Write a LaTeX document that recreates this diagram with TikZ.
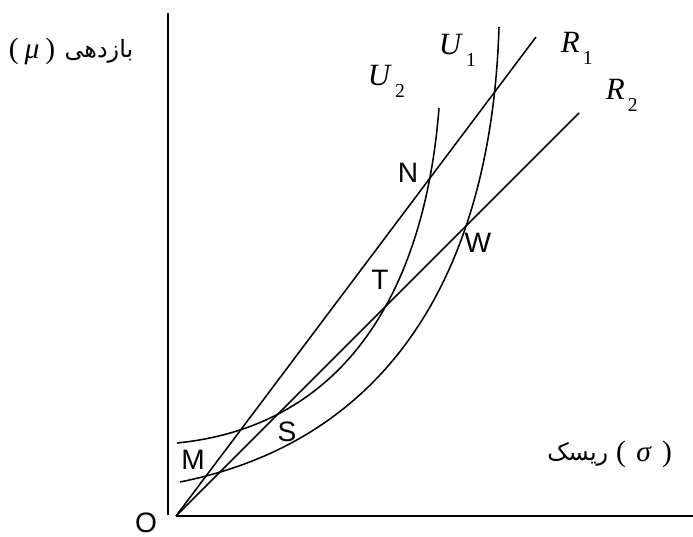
\documentclass[tikz,border=0pt]{standalone}
\usepackage{fontspec}
\setmainfont{Liberation Serif}
\setsansfont{Liberation Sans}
\newfontfamily\arabicfont[Script=Arabic]{DejaVu Sans}
\TeXXeTstate=1
\usetikzlibrary{positioning}

\newcommand{\sub}[2]{\textit{#1}\raisebox{-0.36em}{\fontsize{14}{16}\selectfont\,#2}}

\begin{document}
\begin{tikzpicture}[x=0.025cm, y=-0.025cm, line width=1.1pt,
  axis/.style={line width=1.5pt},
  pt/.style={font=\sffamily\fontsize{20}{24}\selectfont, inner sep=0pt},
  curvename/.style={font=\fontsize{22}{26}\selectfont, inner sep=0pt, anchor=base west},
  axisname/.style={font=\fontsize{21}{25}\selectfont, inner sep=0pt},
  farsi/.style={font=\arabicfont\fontsize{17}{21}\selectfont, inner sep=0pt}]
\useasboundingbox (0,0) rectangle (693,537);

% axes
\coordinate (O) at (176,516);
\coordinate (ytop) at (168,13);
\coordinate (ybot) at (168,515);
\coordinate (xend) at (693,516);
\draw[axis] (ybot) -- (ytop);
\draw[axis] (O) -- (xend);
\node[pt, anchor=base] (origin) at (146,533) {O};

% rays
\coordinate (r1end) at (536,37);
\coordinate (r2end) at (579,113);
\draw (O) -- (r1end);
\draw (O) -- (r2end);

% indifference curves
\coordinate (u1start) at (180,482);
\coordinate (u1end) at (499,27);
\coordinate (u2start) at (177,443);
\coordinate (u2end) at (439,108);
\draw (u1start) .. controls (400,438) and (492,257) .. (u1end);
\draw (u2start) .. controls (347,426) and (425,288) .. (u2end);

% curve names
\node[curvename] (U1) at (438,55) {\sub{U}{1}};
\node[curvename] (U2) at (367,86) {\sub{U}{2}};
\node[curvename] (R1) at (560,53) {\sub{R}{1}};
\node[curvename] (R2) at (605,100) {\sub{R}{2}};

% points
\foreach \p/\x/\y in {N/408/173, W/478/243, T/380/280, S/287/432, M/193/460}
  \node[pt] (\p) at (\x,\y) {\p};

% axis names
\node[farsi, anchor=east] (ret) at (134,51) {\beginR بازدهی\endR};
\node[axisname] (mu) at (32,51) {(\hspace{0.2em}\textit{μ}\hspace{0.2em})};
\node[farsi, anchor=east] (risk) at (609,454) {\beginR ریسک\endR};
\node[axisname] (sigma) at (644,454) {(\hspace{0.35em}\textit{σ}\hspace{0.35em})};
\end{tikzpicture}
\end{document}
